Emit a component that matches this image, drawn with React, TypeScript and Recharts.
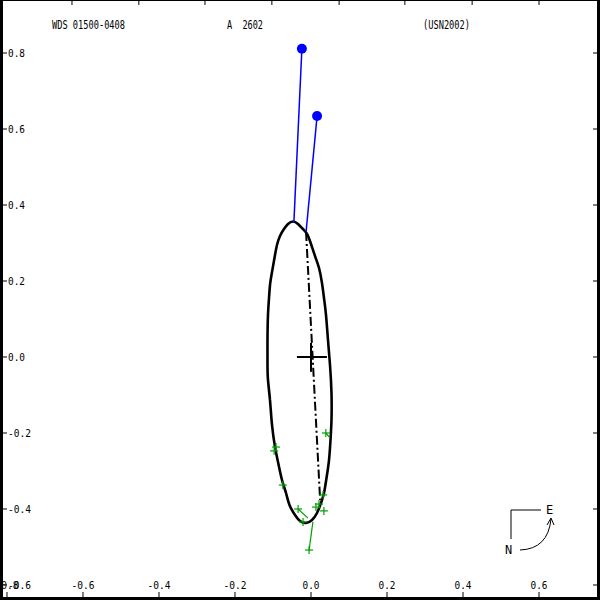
import React from "react";
import { ComposedChart, Line, Scatter, XAxis, YAxis } from "recharts";

// Orbit ellipse (x = offset, y = offset, arcsec); closed loop
const orbitX = [-0.1145, -0.1132, -0.1105, -0.1079, -0.1026, -0.0947, -0.0895, -0.0816, -0.0711, -0.0605, -0.0474, -0.0342, -0.0211, -0.0105, 0.0000, 0.0105, 0.0211, 0.0289, 0.0342, 0.0395, 0.0447, 0.0500, 0.0539, 0.0539, 0.0513, 0.0474, 0.0408, 0.0342, 0.0263, 0.0158, 0.0026, -0.0132, -0.0289, -0.0421, -0.0566, -0.0658, -0.0763, -0.0868, -0.0947, -0.1026, -0.1079, -0.1132, -0.1145, -0.1145];
const orbitY = [0.0447, 0.1105, 0.1553, 0.1895, 0.2237, 0.2684, 0.2947, 0.3184, 0.3368, 0.3500, 0.3566, 0.3500, 0.3368, 0.3237, 0.2974, 0.2658, 0.2342, 0.1947, 0.1553, 0.1105, 0.0447, -0.0211, -0.0947, -0.1658, -0.2184, -0.2711, -0.3184, -0.3579, -0.3842, -0.4105, -0.4289, -0.4368, -0.4316, -0.4158, -0.3895, -0.3579, -0.3237, -0.2763, -0.2368, -0.1789, -0.1132, -0.0605, -0.0211, 0.0447];

// Line of nodes (dash-dot)
const nodesX = [-0.013, 0.024];
const nodesY = [0.329, -0.376];

// Blue measures and their connections to the orbit
const blueX = [-0.024, 0.016];
const blueY = [0.811, 0.634];
const blueOrbitX = [-0.045, -0.013];
const blueOrbitY = [0.355, 0.329];

// Green measures
const greenX = [-0.092, -0.097, 0.039, -0.074, -0.034, -0.021, 0.013, 0.032, 0.021, 0.034, -0.005];
const greenY = [-0.237, -0.247, -0.200, -0.337, -0.400, -0.434, -0.395, -0.363, -0.387, -0.405, -0.508];
// O-C residual lines: measure index, orbit x, orbit y
const residIdx = [2, 4, 10];
const residOrbitX = [0.050, -0.008, 0.005];
const residOrbitY = [-0.213, -0.424, -0.434];

// Primary cross
const crossH = [-0.037, 0.042];
const crossV = [0.037, -0.039];

// Axis ticks
const xTicks = [-0.8, -0.6, -0.4, -0.2, 0.0, 0.2, 0.4, 0.6];
const yTicks = [0.8, 0.6, 0.4, 0.2, 0.0, -0.2, -0.4, -0.6];
const topTicks = [-0.629, -0.453, -0.279, -0.103, 0.074, 0.247, 0.424, 0.6];

const titleLeft = "WDS 01500-0408";
const titleMid = "A  2602";
const titleRight = "(USN2002)";

const W = 600;
const H = 600;
const AX = 20;
const X_DOMAIN: [number, number] = [-0.8184, 0.7605];
const Y_DOMAIN: [number, number] = [-0.6395, 0.9395];
const FONT = "'DejaVu Sans Mono', 'Liberation Mono', monospace";

const zip = (xs: number[], ys: number[]) => xs.map((x, i) => ({ x, y: ys[i] }));

const orbitPts = zip(orbitX, orbitY);
// wrap a few points past the seam so the spline closes smoothly
const orbitData = [...orbitPts.slice(-4, -1), ...orbitPts, ...orbitPts.slice(1, 4)];
const nodesData = zip(nodesX, nodesY);
const blueData = zip(blueX, blueY);
const blueLines = blueX.map((x, i) => [
  { x, y: blueY[i] },
  { x: blueOrbitX[i], y: blueOrbitY[i] },
]);
const greenData = zip(greenX, greenY);
const residLines = residIdx.map((gi, i) => [
  { x: greenX[gi], y: greenY[gi] },
  { x: residOrbitX[i], y: residOrbitY[i] },
]);
const crossHData = [
  { x: crossH[0], y: 0 },
  { x: crossH[1], y: 0 },
];
const crossVData = [
  { x: 0, y: crossV[0] },
  { x: 0, y: crossV[1] },
];

const fmt = (v: number) => v.toFixed(1);

const XTick = (props: any) => {
  const { x, payload } = props;
  const label = fmt(payload.value);
  return (
    <g>
      <line x1={x} x2={x} y1={597} y2={592} stroke="#000" strokeWidth={1} />
      <text
        x={x}
        y={589}
        textAnchor="middle"
        fontFamily={FONT}
        fontSize={11}
        textLength={label.length * 6 - 1}
        lengthAdjust="spacingAndGlyphs"
        fill="#000"
      >
        {label}
      </text>
    </g>
  );
};

const TopTick = (props: any) => {
  const { x } = props;
  return <line x1={x} x2={x} y1={0} y2={5} stroke="#000" strokeWidth={1} />;
};

const YTick = (props: any) => {
  const { y, payload } = props;
  const label = fmt(payload.value);
  return (
    <g>
      <line x1={3} x2={7} y1={y} y2={y} stroke="#000" strokeWidth={1} />
      <line x1={593} x2={597} y1={y} y2={y} stroke="#000" strokeWidth={1} />
      <text
        x={8}
        y={y + 4}
        fontFamily={FONT}
        fontSize={11}
        textLength={label.length * 6 - 1}
        lengthAdjust="spacingAndGlyphs"
        fill="#000"
      >
        {label}
      </text>
    </g>
  );
};

const PlusShape = (props: any) => {
  const { cx, cy } = props;
  return (
    <g stroke="#00a000" strokeWidth={1.2}>
      <line x1={cx - 4} x2={cx + 4} y1={cy} y2={cy} />
      <line x1={cx} x2={cx} y1={cy - 4} y2={cy + 4} />
    </g>
  );
};

const DotShape = (props: any) => {
  const { cx, cy } = props;
  return <circle cx={cx} cy={cy} r={5} fill="#0000ff" />;
};

export default function App() {
  return (
    <div
      style={{
        position: "absolute",
        left: 0,
        top: 0,
        width: W,
        height: H,
        background: "#fff",
        overflow: "hidden",
      }}
    >
      <ComposedChart
        width={W}
        height={H}
        margin={{ top: -AX, right: 0, bottom: -AX, left: -AX }}
        style={{ position: "absolute", left: 0, top: 0, overflow: "visible" }}
      >
        <XAxis
          type="number"
          dataKey="x"
          domain={X_DOMAIN}
          ticks={xTicks}
          allowDataOverflow
          height={AX}
          axisLine={false}
          tickLine={false}
          interval={0}
          tick={<XTick />}
        />
        <XAxis
          xAxisId="top"
          orientation="top"
          type="number"
          dataKey="x"
          domain={X_DOMAIN}
          ticks={topTicks}
          allowDataOverflow
          height={AX}
          axisLine={false}
          tickLine={false}
          interval={0}
          tick={<TopTick />}
        />
        <YAxis
          type="number"
          dataKey="y"
          domain={Y_DOMAIN}
          ticks={yTicks}
          allowDataOverflow
          width={AX}
          axisLine={false}
          tickLine={false}
          interval={0}
          tick={<YTick />}
        />
        <Line
          data={orbitData}
          dataKey="y"
          type="natural"
          stroke="#000"
          strokeWidth={2.6}
          dot={false}
          activeDot={false}
          isAnimationActive={false}
        />
        <Line
          data={nodesData}
          dataKey="y"
          type="linear"
          stroke="#000"
          strokeWidth={2}
          strokeDasharray="9 3 2 3"
          dot={false}
          activeDot={false}
          isAnimationActive={false}
        />
        {blueLines.map((d, i) => (
          <Line
            key={"b" + i}
            data={d}
            dataKey="y"
            type="linear"
            stroke="#0000ff"
            strokeWidth={1.5}
            dot={false}
            activeDot={false}
            isAnimationActive={false}
          />
        ))}
        {residLines.map((d, i) => (
          <Line
            key={"r" + i}
            data={d}
            dataKey="y"
            type="linear"
            stroke="#00a000"
            strokeWidth={1.2}
            dot={false}
            activeDot={false}
            isAnimationActive={false}
          />
        ))}
        <Line
          data={crossHData}
          dataKey="y"
          type="linear"
          stroke="#000"
          strokeWidth={2}
          dot={false}
          activeDot={false}
          isAnimationActive={false}
        />
        <Line
          data={crossVData}
          dataKey="y"
          type="linear"
          stroke="#000"
          strokeWidth={2}
          dot={false}
          activeDot={false}
          isAnimationActive={false}
        />
        <Scatter data={greenData} dataKey="y" shape={<PlusShape />} isAnimationActive={false} />
        <Scatter data={blueData} dataKey="y" shape={<DotShape />} isAnimationActive={false} />
      </ComposedChart>
      <svg
        width={W}
        height={H}
        style={{ position: "absolute", left: 0, top: 0, pointerEvents: "none" }}
      >
        {/* frame */}
        <rect x={0} y={0} width={3} height={H} fill="#000" />
        <rect x={597} y={0} width={3} height={H} fill="#000" />
        <rect x={0} y={597} width={W} height={3} fill="#000" />
        <rect x={0} y={0} width={W} height={1} fill="#000" />
        {/* titles */}
        <text x={52} y={29} fontFamily={FONT} fontSize={12} textLength={73} lengthAdjust="spacingAndGlyphs" style={{ whiteSpace: "pre" }}>
          {titleLeft}
        </text>
        <text x={227} y={29} fontFamily={FONT} fontSize={12} textLength={36} lengthAdjust="spacingAndGlyphs" style={{ whiteSpace: "pre" }}>
          {titleMid}
        </text>
        <text x={423} y={29} fontFamily={FONT} fontSize={12} textLength={47} lengthAdjust="spacingAndGlyphs" style={{ whiteSpace: "pre" }}>
          {titleRight}
        </text>
        {/* compass */}
        <g stroke="#000" strokeWidth={1} fill="none">
          <line x1={511} y1={510} x2={541} y2={510} />
          <line x1={511} y1={510} x2={511} y2={539} />
          <path d="M520,550 Q548,549 551,519" />
          <path d="M547,525 L551,518 L554,525" />
        </g>
        <text x={546} y={514} fontFamily={FONT} fontSize={12}>E</text>
        <text x={505} y={554} fontFamily={FONT} fontSize={12}>N</text>
      </svg>
    </div>
  );
}
